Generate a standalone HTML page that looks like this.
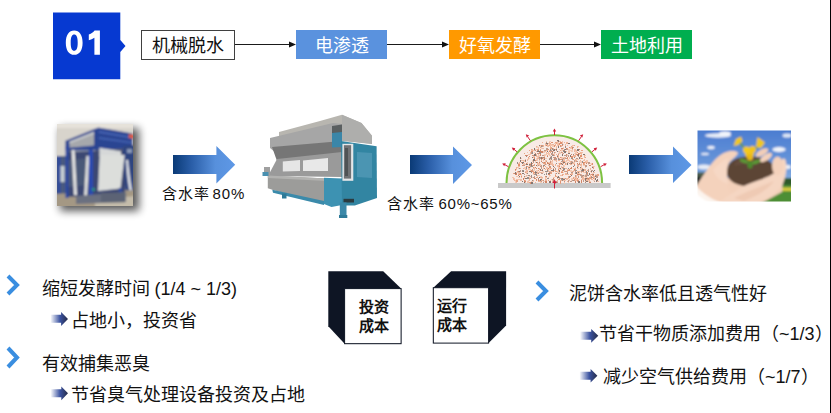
<!DOCTYPE html>
<html lang="zh-CN">
<head>
<meta charset="utf-8">
<style>
html,body{margin:0;padding:0;background:#fff;}
body{width:831px;height:413px;position:relative;overflow:hidden;font-family:"Liberation Sans",sans-serif;color:#111;}
.a{position:absolute;}
.box{position:absolute;top:30px;height:29px;font-size:18px;line-height:26px;padding-top:3px;text-align:center;color:#fff;box-sizing:border-box;}
.t{position:absolute;font-size:18px;line-height:20px;white-space:nowrap;color:#111;}
</style>
</head>
<body>
<!-- right border line -->
<div class="a" style="left:830px;top:0;width:1px;height:413px;background:#000;"></div>

<!-- 01 badge -->
<svg class="a" style="left:0;top:0" width="140" height="90">
  <polygon points="53,12.6 120.3,12.6 120.3,40 125.5,46 120.3,52 120.3,79.3 53,79.3" fill="#0639d1"/>
</svg>
<svg class="a" style="left:0;top:0" width="140" height="90">
  <path fill="#fff" fill-rule="evenodd" d="M74.2,30.5 C69,30.5 65.8,35 65.8,42.65 C65.8,50.3 69,54.8 74.2,54.8 C79.4,54.8 82.6,50.3 82.6,42.65 C82.6,35 79.4,30.5 74.2,30.5 Z M74.2,34.6 C72,34.6 70.7,37 70.7,42.65 C70.7,48.3 72,50.7 74.2,50.7 C76.4,50.7 77.7,48.3 77.7,42.65 C77.7,37 76.4,34.6 74.2,34.6 Z"/>
  <path fill="#fff" d="M88.8,34.4 C91.5,33.5 93.3,32.2 94.6,30.5 L99.9,30.5 L99.9,54.8 L94.4,54.8 L94.4,37.8 C92.6,39 90.8,39.7 88.8,40.2 Z"/>
</svg>

<!-- flow boxes -->
<div class="box" style="left:141px;width:94px;height:30px;border:1px solid #404040;color:#111;line-height:28px;padding-top:1px;background:#fff;">机械脱水</div>
<div class="box" style="left:296px;width:91px;background:#5a92de;">电渗透</div>
<div class="box" style="left:449px;width:91px;background:#ff9900;">好氧发酵</div>
<div class="box" style="left:601px;width:91px;background:#00ae4f;">土地利用</div>

<svg class="a" style="left:0;top:0" width="831" height="90">
  <g stroke="#1a1a1a" stroke-width="1.2">
    <line x1="235" y1="44.5" x2="290" y2="44.5"/>
    <line x1="387" y1="44.5" x2="443" y2="44.5"/>
    <line x1="540" y1="44.5" x2="595" y2="44.5"/>
  </g>
  <g fill="#111">
    <polygon points="289,41.5 296,44.5 289,47.5"/>
    <polygon points="442,41.5 449,44.5 442,47.5"/>
    <polygon points="594,41.5 601,44.5 594,47.5"/>
  </g>
</svg>

<!-- big arrows -->
<svg class="a" style="left:0;top:0" width="831" height="230">
  <defs>
    <linearGradient id="ag" x1="0" y1="0" x2="1" y2="0">
      <stop offset="0" stop-color="#0a3a76"/>
      <stop offset="0.3" stop-color="#2a5ea8"/>
      <stop offset="0.68" stop-color="#5790dc"/>
      <stop offset="1" stop-color="#5e98e6"/>
    </linearGradient>
  </defs>
  <polygon points="173,155 216.4,155 216.4,146 235.2,164.8 216.4,183.6 216.4,174 173,174" fill="url(#ag)"/>
  <polygon points="410,155 453,155 453,146.5 472,165 453,184 453,174 410,174" fill="url(#ag)"/>
  <polygon points="629,155 673,155 673,146.5 691.5,165 673,183 673,174 629,174" fill="url(#ag)"/>
</svg>

<div class="t" style="left:161.5px;top:183.5px;font-size:15px;"><span style="letter-spacing:1px">含水率</span><span style="margin-left:3px;letter-spacing:0.9px">80%</span></div>
<div class="t" style="left:386.5px;top:194px;font-size:15px;"><span style="letter-spacing:1px">含水率</span><span style="margin-left:4px;letter-spacing:0.75px">60%~65%</span></div>

<svg class="a" style="left:0;top:0" width="831" height="413" viewBox="0 0 831 413">
  <defs>
    <filter id="blr" x="-5%" y="-5%" width="110%" height="110%"><feGaussianBlur stdDeviation="0.85"/></filter>
    <filter id="blr2" x="-5%" y="-5%" width="110%" height="110%"><feGaussianBlur stdDeviation="0.5"/></filter>
    <filter id="shd" x="-30%" y="-30%" width="160%" height="160%"><feGaussianBlur stdDeviation="4"/></filter>
    <linearGradient id="sky" x1="0" y1="0" x2="0" y2="1">
      <stop offset="0" stop-color="#4a7bd0"/>
      <stop offset="0.5" stop-color="#6a98da"/>
      <stop offset="1" stop-color="#b4d0ee"/>
    </linearGradient>
    <linearGradient id="fade" x1="0" y1="0" x2="1" y2="1">
      <stop offset="0" stop-color="#fff" stop-opacity="0"/>
      <stop offset="1" stop-color="#fff" stop-opacity="1"/>
    </linearGradient>
    <clipPath id="c1"><rect x="57" y="124" width="76" height="82"/></clipPath>
    <clipPath id="c4"><rect x="697.5" y="130.5" width="93.5" height="71"/></clipPath>
  </defs>

  <!-- ===== photo 1: belt press ===== -->
  <rect x="60" y="128" width="79" height="83" fill="#000" opacity="0.65" filter="url(#shd)"/>
  <g clip-path="url(#c1)">
   <rect x="57" y="124" width="76" height="82" fill="#d8d4cc"/>
   <g filter="url(#blr)">
    <rect x="55" y="122" width="80" height="86" fill="#d8d4cc"/>
    <rect x="55" y="122" width="80" height="6" fill="#e6e2da"/>
    <!-- left background machine -->
    <rect x="55" y="156" width="12" height="42" fill="#4a5a80"/>
    <rect x="57.4" y="156" width="3" height="42" fill="#2a4aa0"/>
    <rect x="60.5" y="166" width="4" height="16" fill="#c8d0d4"/>
    <!-- floor -->
    <polygon points="55,194 135,189 135,208 55,208" fill="#a49884"/>
    <polygon points="95,200 135,196 135,208 95,208" fill="#c4bcaa"/>
    <!-- under-beam structure -->
    <polygon points="66,147 97,134 124,140 124,153 66,153" fill="#5a6278"/>
    <polygon points="66,147 97,133 97,138 66,151.5" fill="#b0b0ac"/>
    <rect x="75" y="150" width="20" height="2.5" fill="#a8acb0"/>
    <!-- lower machine body -->
    <polygon points="66,152 125,150 125,194 66,197" fill="#3a4672"/>
    <polygon points="68,160 88,158 88,185 68,187" fill="#4a5878"/>
    <!-- top frame -->
    <polygon points="65.4,140.8 98.3,127.5 132.5,133.4 132.5,148.3 91.5,150.3 65.4,150.3" fill="#2c4592"/>
    <polygon points="69.5,141.5 94,131.8 94,145.5 69.5,147.8" fill="#a6a8ac"/>
    <polygon points="69.5,141.5 94,131.8 94,134 69.5,143.5" fill="#c8cacc"/>
    <polygon points="99,131 132.5,137 132.5,138.5 99,132.8" fill="#4a68b8"/>
    <polygon points="99,137 132.5,142 132.5,143.5 99,139" fill="#4262b0"/>
    <polygon points="128.8,134 135,135 135,138.5 128.8,138" fill="#e05a3a"/>
    <!-- white upper panel under box -->
    <polygon points="99.4,147.8 121,151.3 121,156 99.4,156" fill="#d6d8d8"/>
    <!-- right blue machine -->
    <polygon points="122.8,146 135,145 135,190.3 125.3,190.3" fill="#2e4480"/>
    <rect x="127" y="149" width="5" height="4" fill="#8a9ab8"/>
    <!-- white belt panel -->
    <polygon points="99.7,155 124.7,155 120.5,188.5 98,190.9" fill="#dcdedb"/>
    <!-- pipes -->
    <polygon points="71.6,150 74.6,150 77,195 74,195" fill="#e6e6e4"/>
    <polygon points="86.4,156 89.4,156 87,197.4 84,197.4" fill="#e2e2e0"/>
    <path d="M126,160 L128,160 Q130,180 132,190 L129.5,190.5 Q127,178 126,160 Z" fill="#e4e6e8"/>
    <!-- blue columns -->
    <rect x="65.5" y="146" width="3" height="52" fill="#2a46a0"/>
    <rect x="88.8" y="150" width="4.2" height="50" fill="#2a4ab0"/>
    <rect x="118.8" y="188" width="3" height="8" fill="#2a46a0"/>
    <rect x="92" y="188" width="3" height="3" fill="#2a8a80"/>
    <!-- base blocks -->
    <polygon points="76,196 126,192 126,202 76,204" fill="#6a7080"/>
    <rect x="101" y="192.7" width="23.7" height="9.5" fill="#5c6474"/>
   </g>
  </g>

  <!-- ===== machine ===== -->
  <g filter="url(#blr2)">
    <!-- hood -->
    <polygon points="279,132 320,121 342,114.8 361.5,123 372,135.8 372,144 354,141.8 342,140.3 320,128 279,139" fill="#b8b6b0"/>
    <polygon points="342,114.8 361.5,123 372,135.8 372,144 342,141" fill="#aeaeac"/>
    <polygon points="270,138 333,123 342,124 342,142 318,145.5 276,153 270,148" fill="#a6a6a6"/>
    <polygon points="272,147 342,141 342,153 318,156 277,161" fill="#767676"/>
    <!-- window frame -->
    <polygon points="277,159 342,152 342,177 268,176" fill="#9a9a9a"/>
    <polygon points="282.8,161.5 300,160 300,171 282.8,171.5" fill="#e6e6e6"/>
    <polygon points="303,160.5 328,158 328,171 303,171" fill="#e8e8e8"/>
    <!-- lower front panel -->
    <polygon points="267.8,175.5 327,178.5 327,201 318,202.5 272.3,189.8 267.8,188.3" fill="#9c9c9a"/>
    <polygon points="267.8,175.5 327,178.5 327,181 267.8,178" fill="#b2b2b0"/>
    <!-- left pipe -->
    <rect x="264" y="167" width="6" height="9" fill="#a0a0a0"/>
    <rect x="262.5" y="172" width="6" height="4" fill="#4a90b0"/>
    <!-- teal rail -->
    <polygon points="272.3,189.8 324,201 324,205 273,192.8" fill="#3a8aaa"/>
    <rect x="282" y="193.5" width="4.5" height="5" fill="#2e7a98"/>
    <!-- teal front piece -->
    <polygon points="324,177.8 342,178.5 342,205 331.5,207 324,204" fill="#3e92b2"/>
    <!-- chain panel -->
    <polygon points="332,126 342,124.5 342,133 332,134" fill="#5a5e60"/>
    <polygon points="332,133 342,132 342,147 332,147.5" fill="#3a86a8"/>
    <!-- teal side panel -->
    <polygon points="341,140.9 376.6,146.3 377,198 354.8,205.5 342,205.5 341,143.3" fill="#3385a2"/>
    <polygon points="357,152 372,153 372,178 357,177" fill="#4b95b2"/>
    <rect x="342.4" y="143.8" width="10.9" height="37" fill="#e4e6e8"/>
    <rect x="343.9" y="145.2" width="7.2" height="33.4" fill="#707274"/>
    <rect x="345" y="148" width="3" height="28" fill="#505254"/>
    <rect x="343.5" y="198.8" width="10.5" height="3.7" fill="#2a3a40"/>
    <!-- foot -->
    <rect x="339.8" y="202.5" width="6.7" height="14" fill="#3a88a8"/>
    <rect x="339" y="215" width="8.3" height="3" fill="#2e7a98"/>
  </g>

  <!-- ===== dome ===== -->
  <rect x="498" y="183" width="112.6" height="5" fill="#c9c9c9"/>
  <path d="M506.5,183 A47.8,47.8 0 0 1 602.1,183 Z" fill="#f8ebe6"/>
  <g filter="url(#blr2)"><path fill="#e8a484" d="M518 174h2v1h-2zM533 172h1v2h-1zM587 181h1v1h-1zM535 178h1v1h-1zM552 154h1v2h-1zM541 157h1v1h-1zM574 169h1v2h-1zM553 168h1v1h-1zM558 170h1v2h-1zM528 157h1v1h-1zM558 145h1v1h-1zM531 163h2v1h-2zM585 178h1v1h-1zM521 162h1v1h-1zM549 162h1v2h-1zM513 173h2v1h-2zM547 155h1v1h-1zM536 154h1v2h-1zM544 154h2v2h-2zM515 170h1v1h-1zM559 163h1v2h-1zM558 168h2v1h-2zM544 162h2v2h-2zM550 151h1v1h-1zM556 182h2v1h-2zM554 149h2v1h-2zM562 167h2v2h-2zM550 148h1v1h-1zM574 168h2v2h-2zM555 160h1v1h-1zM565 163h2v2h-2zM586 172h1v1h-1zM560 150h1v1h-1zM593 167h1v2h-1zM551 147h1v2h-1zM568 159h1v1h-1zM576 173h2v1h-2zM537 149h2v2h-2zM592 166h1v2h-1zM529 158h1v1h-1zM576 158h1v2h-1zM562 174h1v2h-1zM532 152h1v1h-1zM537 156h2v1h-2zM527 166h2v1h-2zM573 145h2v1h-2zM573 155h1v1h-1zM564 171h2v1h-2zM567 159h1v1h-1zM528 168h1v1h-1zM563 161h2v1h-2zM553 154h2v1h-2zM538 156h1v1h-1zM524 153h1v1h-1zM574 178h2v1h-2zM558 154h1v1h-1zM548 180h1v1h-1zM540 149h1v1h-1zM554 155h1v1h-1zM581 165h1v1h-1zM526 171h2v1h-2zM570 163h1v1h-1zM583 164h2v2h-2zM529 178h2v1h-2zM544 152h1v1h-1zM522 170h1v1h-1zM550 151h1v2h-1zM578 155h1v1h-1zM577 181h1v1h-1zM531 149h1v1h-1zM582 176h1v2h-1zM587 170h1v1h-1zM536 177h2v1h-2zM545 166h1v1h-1zM568 176h2v2h-2zM533 171h1v1h-1zM555 142h2v2h-2zM534 164h1v2h-1zM557 155h1v1h-1zM589 177h1v2h-1zM585 178h2v1h-2zM562 152h1v2h-1zM550 146h1v2h-1zM543 162h2v2h-2zM538 170h1v1h-1zM529 182h2v1h-2zM555 176h2v1h-2zM593 172h1v1h-1zM529 166h2v1h-2zM516 180h2v2h-2zM553 181h1v1h-1zM550 172h2v2h-2zM539 180h1v1h-1zM592 175h2v1h-2zM573 177h2v2h-2zM590 177h2v2h-2zM582 158h1v1h-1zM532 165h2v1h-2zM550 147h2v1h-2zM525 171h2v2h-2zM540 152h1v1h-1zM582 168h1v2h-1zM529 150h1v1h-1zM566 148h2v2h-2zM588 179h1v1h-1zM549 145h1v1h-1zM526 169h1v1h-1zM572 159h2v1h-2zM597 174h2v2h-2zM581 150h2v1h-2zM560 178h1v1h-1zM571 146h1v1h-1zM540 170h1v1h-1zM542 170h1v2h-1zM575 178h2v2h-2zM567 170h1v2h-1zM562 162h2v2h-2zM585 157h1v1h-1zM560 182h1v2h-1zM549 143h2v1h-2zM524 160h1v1h-1zM555 171h2v1h-2zM558 173h2v1h-2zM540 147h2v1h-2zM518 166h1v2h-1z"/><path fill="#e0906e" d="M545 176h1v1h-1zM539 152h1v2h-1zM563 160h1v2h-1zM587 173h1v1h-1zM591 176h1v1h-1zM528 166h1v2h-1zM571 178h2v2h-2zM519 173h2v2h-2zM534 157h1v2h-1zM554 145h1v2h-1zM518 171h1v2h-1zM580 157h1v1h-1zM523 168h2v1h-2zM567 158h1v2h-1zM531 163h2v1h-2zM542 146h1v1h-1zM577 152h1v1h-1zM580 155h2v2h-2zM521 176h1v1h-1zM584 176h1v1h-1zM581 175h1v1h-1zM535 178h1v1h-1zM568 169h1v2h-1zM543 145h1v1h-1zM560 181h1v2h-1zM560 142h2v2h-2zM560 159h2v1h-2zM575 155h1v2h-1zM570 181h1v1h-1zM581 158h1v1h-1zM569 163h1v1h-1zM571 156h2v2h-2zM583 162h2v2h-2zM542 145h1v1h-1zM560 145h1v1h-1zM574 179h1v2h-1zM524 180h2v2h-2zM530 182h2v2h-2zM546 149h1v1h-1zM531 170h2v2h-2zM587 173h1v2h-1zM530 167h1v1h-1zM540 180h2v1h-2zM531 151h2v2h-2zM549 142h1v2h-1zM537 150h2v2h-2zM586 172h2v1h-2zM553 145h2v2h-2zM540 145h2v1h-2zM554 152h1v1h-1zM558 172h1v1h-1zM581 153h1v1h-1zM567 159h1v2h-1zM543 157h1v1h-1zM531 170h1v1h-1zM591 174h2v1h-2zM550 162h1v2h-1zM585 174h2v2h-2zM569 169h1v2h-1zM561 171h2v2h-2zM583 171h1v1h-1zM518 164h2v2h-2zM523 161h1v1h-1zM533 167h1v2h-1zM560 163h2v1h-2zM532 155h1v1h-1zM578 153h2v1h-2zM553 171h1v1h-1zM564 162h1v1h-1zM552 180h2v1h-2zM562 160h2v2h-2zM562 145h1v1h-1zM558 168h1v2h-1zM574 160h2v1h-2zM558 179h2v1h-2zM575 171h1v2h-1zM551 142h2v1h-2zM577 175h2v1h-2zM593 178h1v1h-1zM536 180h1v1h-1zM559 149h1v1h-1zM574 164h1v1h-1zM536 162h2v1h-2zM567 157h1v1h-1zM555 175h1v1h-1zM534 172h1v2h-1zM577 178h1v1h-1zM541 159h1v1h-1zM576 154h1v1h-1zM578 156h1v1h-1zM577 179h2v2h-2zM547 169h1v1h-1zM519 172h1v2h-1zM559 143h1v2h-1zM575 182h1v1h-1zM587 161h1v1h-1zM569 147h1v1h-1zM591 163h2v2h-2zM548 149h1v1h-1zM549 167h2v2h-2zM535 160h1v1h-1zM570 163h1v1h-1zM586 171h1v1h-1zM526 171h1v1h-1zM568 169h1v2h-1zM546 167h2v2h-2zM522 165h2v1h-2zM549 151h1v1h-1zM582 178h1v1h-1zM579 174h1v1h-1zM560 157h1v1h-1zM545 182h2v1h-2zM527 155h1v1h-1zM532 157h1v1h-1zM554 158h1v1h-1zM542 155h1v1h-1zM578 159h1v1h-1z"/><path fill="#9a8e88" d="M583 165h2v1h-2zM573 180h1v1h-1zM538 173h1v1h-1zM527 172h1v2h-1zM572 161h1v2h-1zM581 163h1v2h-1zM531 171h1v2h-1zM556 163h1v1h-1zM545 179h1v2h-1zM557 182h1v1h-1zM535 171h2v1h-2zM545 154h1v1h-1zM575 152h1v1h-1zM574 165h1v1h-1zM519 168h1v1h-1zM540 152h1v2h-1zM546 173h1v2h-1zM515 173h1v1h-1zM549 158h1v2h-1zM563 170h1v1h-1zM534 173h2v2h-2zM558 173h1v1h-1zM591 177h1v1h-1zM552 152h1v1h-1zM539 155h2v1h-2zM542 169h1v1h-1zM566 155h1v1h-1zM522 171h1v1h-1zM544 168h1v1h-1zM562 179h1v2h-1zM541 146h1v1h-1zM575 182h1v1h-1zM531 175h1v1h-1zM587 175h2v1h-2zM543 165h2v1h-2zM562 159h1v2h-1zM586 171h1v2h-1zM592 177h1v1h-1zM537 153h2v1h-2zM561 178h1v2h-1zM531 177h1v1h-1zM550 149h1v2h-1zM530 153h1v2h-1zM546 141h1v2h-1zM571 158h2v1h-2zM581 170h1v1h-1zM531 166h2v1h-2zM536 174h1v2h-1zM547 146h1v1h-1zM534 174h1v1h-1zM544 174h1v1h-1zM569 176h1v2h-1zM563 168h2v2h-2zM526 167h1v2h-1zM568 168h1v1h-1zM563 180h1v1h-1zM580 175h2v1h-2zM552 155h2v1h-2zM569 153h1v1h-1zM573 156h1v1h-1zM547 170h1v2h-1zM550 156h2v2h-2zM564 149h1v1h-1zM527 177h2v2h-2zM575 170h2v1h-2zM562 143h1v2h-1zM575 172h1v2h-1zM549 154h1v2h-1zM570 174h2v1h-2zM552 148h2v2h-2zM567 159h2v1h-2zM532 180h1v2h-1zM532 152h1v2h-1zM519 173h1v1h-1zM577 158h1v2h-1zM552 144h1v1h-1zM567 173h1v1h-1zM536 159h1v1h-1zM558 158h2v2h-2zM555 173h2v1h-2zM538 157h2v1h-2zM586 175h1v1h-1zM530 176h2v1h-2zM574 157h1v1h-1zM517 162h1v2h-1zM545 171h2v1h-2zM547 178h2v1h-2zM554 159h1v1h-1zM538 150h1v2h-1zM563 150h1v2h-1zM543 157h1v2h-1zM547 144h1v1h-1zM565 146h1v2h-1zM585 181h1v2h-1zM522 170h2v1h-2zM551 163h1v1h-1zM525 171h1v1h-1zM582 161h1v2h-1zM528 175h2v1h-2zM546 176h1v1h-1zM567 174h1v1h-1zM588 171h1v1h-1zM538 178h1v1h-1zM566 173h1v2h-1zM582 175h2v2h-2zM580 153h1v1h-1zM586 173h1v2h-1zM575 181h1v1h-1zM544 150h1v2h-1zM575 179h1v1h-1zM531 150h1v1h-1zM550 158h2v2h-2zM571 171h1v1h-1zM571 163h1v1h-1zM526 156h1v1h-1zM573 154h1v1h-1zM524 176h1v1h-1zM529 176h1v1h-1zM542 177h1v1h-1z"/><path fill="#d08668" d="M526 163h2v1h-2zM547 156h1v1h-1zM548 174h1v1h-1zM567 155h1v1h-1zM581 180h1v2h-1zM547 162h2v2h-2zM538 179h1v1h-1zM566 154h1v1h-1zM543 166h1v1h-1zM550 171h2v1h-2zM543 158h2v1h-2zM562 170h1v2h-1zM566 155h1v1h-1zM578 153h1v2h-1zM520 179h2v1h-2zM579 173h1v1h-1zM577 163h1v1h-1zM561 148h2v1h-2zM566 148h1v2h-1zM536 179h1v1h-1zM572 163h1v1h-1zM531 152h1v1h-1zM569 163h1v1h-1zM538 180h1v1h-1zM575 172h2v1h-2zM537 165h1v2h-1zM574 168h1v2h-1zM572 149h1v1h-1zM564 151h1v2h-1zM529 156h1v1h-1zM536 171h2v1h-2zM546 145h2v1h-2zM539 162h1v1h-1zM568 149h2v1h-2zM525 155h2v1h-2zM577 154h1v2h-1zM536 168h1v1h-1zM571 167h1v1h-1zM592 174h2v1h-2zM540 154h1v1h-1zM540 170h2v1h-2zM517 172h1v1h-1zM551 153h2v2h-2zM538 168h2v1h-2zM555 157h1v1h-1zM579 149h1v1h-1zM534 158h1v1h-1zM530 164h1v1h-1zM514 173h2v1h-2zM535 153h1v1h-1zM572 147h1v2h-1zM579 162h1v2h-1zM570 176h1v1h-1zM518 171h1v1h-1zM577 174h2v1h-2zM586 162h1v2h-1zM575 175h1v1h-1zM548 173h2v2h-2zM515 169h1v1h-1zM524 181h2v1h-2zM550 163h1v1h-1zM553 178h1v1h-1zM539 155h2v1h-2zM552 180h2v1h-2zM541 161h1v1h-1zM523 178h1v2h-1zM570 174h2v1h-2zM555 157h1v2h-1zM542 152h1v1h-1zM552 180h1v1h-1zM529 171h1v1h-1zM558 146h1v1h-1zM532 150h1v1h-1zM545 181h2v2h-2zM577 163h1v2h-1zM544 156h1v2h-1zM548 168h1v1h-1zM559 166h1v1h-1zM521 162h1v1h-1zM525 161h1v1h-1zM546 153h1v1h-1zM532 181h2v1h-2zM587 178h2v2h-2zM515 173h2v2h-2zM560 168h1v2h-1zM544 162h1v1h-1zM531 182h1v1h-1zM541 151h2v2h-2zM542 157h1v2h-1zM526 166h1v1h-1zM583 154h1v1h-1zM531 171h1v1h-1zM534 178h1v1h-1zM575 181h1v2h-1zM535 167h1v1h-1zM564 150h1v1h-1zM571 154h1v1h-1zM564 178h1v1h-1zM589 165h2v1h-2zM518 175h1v1h-1zM540 150h1v2h-1zM589 182h2v1h-2zM552 151h1v1h-1zM586 162h1v1h-1zM581 182h1v1h-1zM558 168h1v1h-1zM570 168h2v1h-2z"/><path fill="#857670" d="M547 150h1v2h-1zM554 149h1v2h-1zM520 157h1v2h-1zM562 154h1v2h-1zM565 149h1v1h-1zM577 167h1v1h-1zM553 151h1v1h-1zM584 172h1v1h-1zM529 167h1v2h-1zM568 152h1v2h-1zM579 157h1v2h-1zM536 171h2v2h-2zM558 176h1v1h-1zM558 157h1v1h-1zM566 163h2v2h-2zM595 176h1v1h-1zM553 150h2v1h-2zM540 169h1v1h-1zM529 166h1v1h-1zM582 169h2v2h-2zM526 164h1v1h-1zM531 164h1v2h-1zM532 157h1v1h-1zM557 140h2v2h-2zM578 172h1v1h-1zM597 179h1v2h-1zM568 153h2v1h-2zM594 170h1v1h-1zM542 146h1v1h-1zM524 178h1v1h-1zM568 150h2v1h-2zM531 182h2v2h-2zM538 151h2v1h-2zM540 179h2v2h-2zM515 172h1v2h-1zM596 180h1v2h-1zM571 175h1v1h-1zM534 148h1v2h-1zM548 173h2v1h-2zM595 178h1v1h-1zM542 155h1v1h-1zM523 162h1v1h-1zM559 153h1v1h-1zM533 159h2v2h-2zM524 182h1v1h-1zM556 148h1v2h-1zM585 178h2v2h-2zM544 159h1v1h-1zM554 143h1v1h-1zM568 143h2v1h-2zM523 171h1v1h-1zM539 177h1v1h-1zM553 169h1v2h-1zM576 172h2v2h-2zM557 151h1v1h-1zM553 181h1v2h-1zM535 172h1v1h-1zM585 180h1v1h-1zM564 151h2v2h-2zM529 171h2v1h-2zM570 155h1v2h-1zM549 181h2v2h-2zM591 171h1v1h-1zM520 160h1v2h-1zM580 167h1v2h-1zM577 149h2v2h-2zM558 146h1v2h-1zM592 167h1v1h-1zM525 171h1v1h-1zM586 181h2v1h-2zM522 163h1v1h-1zM581 162h1v1h-1zM563 162h2v1h-2zM536 165h2v1h-2zM537 151h1v1h-1zM522 162h1v2h-1zM557 156h1v2h-1zM578 164h2v1h-2zM563 179h2v1h-2zM553 166h1v1h-1zM549 141h1v1h-1zM547 143h1v1h-1zM549 164h1v2h-1zM519 171h1v1h-1zM551 170h2v1h-2zM578 181h1v2h-1zM562 155h1v1h-1zM559 152h1v2h-1zM577 173h1v1h-1zM578 154h1v2h-1zM519 176h1v1h-1zM590 171h1v1h-1zM529 164h1v1h-1zM593 171h1v1h-1zM573 147h1v1h-1zM589 173h1v2h-1zM552 162h1v1h-1zM583 154h2v1h-2zM563 179h1v1h-1zM531 162h1v2h-1zM535 162h2v1h-2zM522 181h1v1h-1zM542 170h1v1h-1zM534 154h2v2h-2zM557 177h2v1h-2zM543 152h1v1h-1zM522 173h2v1h-2zM525 178h2v1h-2zM541 157h1v2h-1zM560 168h1v1h-1zM545 154h1v1h-1zM546 143h2v2h-2zM593 174h1v1h-1zM562 178h2v1h-2zM578 181h2v2h-2zM577 179h1v1h-1zM580 158h1v1h-1zM530 153h1v1h-1zM559 170h1v2h-1zM526 164h2v1h-2zM539 145h2v1h-2zM584 172h1v1h-1zM571 162h1v2h-1zM573 166h1v1h-1zM549 168h1v1h-1zM595 179h1v1h-1zM561 163h2v2h-2zM542 170h1v1h-1zM525 160h1v1h-1z"/><path fill="#f4c4ac" d="M579 151h1v1h-1zM566 160h1v1h-1zM590 171h1v1h-1zM569 160h1v1h-1zM570 148h2v1h-2zM530 169h1v2h-1zM548 162h2v1h-2zM543 167h1v2h-1zM577 175h2v1h-2zM586 160h2v2h-2zM548 177h1v1h-1zM537 159h1v2h-1zM547 153h1v1h-1zM525 171h2v1h-2zM521 174h1v2h-1zM593 177h2v1h-2zM562 141h1v1h-1zM516 172h2v1h-2zM546 167h2v2h-2zM592 170h1v1h-1zM573 156h1v1h-1zM516 176h2v1h-2zM521 160h1v1h-1zM541 170h1v1h-1zM583 177h1v1h-1zM561 149h2v2h-2zM539 171h1v1h-1zM528 182h1v1h-1zM594 178h1v2h-1zM534 173h1v1h-1zM537 175h2v1h-2zM559 153h1v1h-1zM525 182h1v1h-1zM549 168h2v1h-2zM578 168h1v1h-1zM562 162h1v2h-1zM553 177h2v1h-2zM560 169h1v1h-1zM567 160h1v1h-1zM565 180h1v1h-1zM543 158h1v1h-1zM559 151h1v2h-1zM580 169h2v1h-2zM545 164h2v1h-2zM583 176h2v1h-2zM565 145h1v1h-1zM578 159h1v1h-1zM534 168h1v1h-1zM576 177h1v2h-1zM568 169h1v1h-1zM548 153h2v2h-2zM533 150h1v1h-1zM557 145h1v1h-1zM583 160h1v1h-1zM568 155h1v2h-1zM577 168h2v1h-2zM580 161h2v2h-2zM516 169h1v1h-1zM564 170h1v1h-1zM562 157h1v1h-1zM559 172h1v1h-1zM567 159h1v1h-1zM531 181h1v1h-1zM573 162h2v2h-2zM553 159h1v1h-1zM568 151h2v2h-2zM585 166h1v2h-1zM557 176h1v1h-1zM581 166h1v2h-1zM545 160h1v2h-1zM579 154h1v1h-1zM564 182h1v2h-1zM558 167h1v2h-1zM565 161h2v1h-2zM561 169h1v1h-1zM549 155h2v1h-2zM541 176h1v1h-1zM549 175h2v1h-2zM577 146h2v1h-2zM545 177h1v2h-1zM586 161h1v1h-1zM546 153h1v2h-1zM558 167h2v1h-2zM527 181h2v2h-2zM512 177h2v1h-2zM571 150h2v2h-2zM550 144h2v2h-2zM585 155h1v1h-1zM559 149h1v1h-1zM527 175h1v1h-1zM551 171h2v1h-2zM568 181h1v2h-1zM590 176h1v1h-1zM568 159h1v2h-1zM515 180h1v1h-1zM528 168h2v2h-2zM516 179h2v1h-2zM529 154h1v1h-1zM518 179h2v1h-2zM546 172h1v1h-1zM587 175h1v1h-1zM551 161h2v1h-2zM514 178h1v2h-1zM569 161h1v1h-1zM581 175h1v1h-1zM527 152h1v1h-1zM550 159h1v1h-1zM550 180h1v1h-1zM552 164h2v2h-2zM572 145h1v2h-1zM569 157h1v2h-1zM527 162h1v2h-1z"/><path fill="#c09a8a" d="M578 156h1v1h-1zM576 179h1v2h-1zM556 150h1v1h-1zM571 178h1v1h-1zM552 179h2v2h-2zM547 144h1v2h-1zM551 179h1v1h-1zM539 159h1v2h-1zM569 163h2v1h-2zM565 171h2v1h-2zM578 164h2v1h-2zM532 169h1v1h-1zM551 150h1v2h-1zM551 153h2v2h-2zM542 155h2v1h-2zM581 171h2v1h-2zM546 148h2v2h-2zM594 180h1v2h-1zM549 172h2v1h-2zM567 172h1v1h-1zM541 167h1v2h-1zM537 165h2v1h-2zM560 146h2v1h-2zM554 167h1v1h-1zM580 174h1v2h-1zM533 161h1v2h-1zM585 175h2v2h-2zM534 150h2v1h-2zM542 162h1v1h-1zM581 175h2v2h-2zM553 157h2v1h-2zM573 147h1v1h-1zM579 162h2v1h-2zM529 165h2v2h-2zM576 158h2v1h-2zM588 170h1v1h-1zM563 158h1v1h-1zM524 174h1v1h-1zM568 155h1v2h-1zM549 166h2v1h-2zM583 180h1v2h-1zM523 164h2v2h-2zM541 173h2v1h-2zM541 170h1v1h-1zM533 165h1v1h-1zM561 161h2v1h-2zM571 161h1v2h-1zM571 171h2v2h-2zM565 178h1v1h-1zM568 180h1v2h-1zM518 172h2v2h-2zM539 158h1v1h-1zM556 181h1v1h-1zM572 180h1v1h-1zM563 153h1v1h-1zM540 157h1v2h-1zM537 153h2v1h-2zM590 169h1v1h-1zM534 174h1v1h-1zM553 148h1v2h-1zM534 176h1v2h-1zM565 158h2v1h-2zM588 169h1v1h-1zM566 155h1v2h-1zM575 172h1v1h-1zM595 175h2v1h-2zM569 150h1v1h-1zM566 149h2v1h-2zM586 166h1v1h-1zM543 182h1v1h-1zM550 161h1v1h-1zM555 182h1v2h-1zM564 155h2v1h-2zM591 170h2v1h-2zM578 176h1v2h-1zM575 171h1v1h-1zM581 176h1v2h-1zM546 161h1v1h-1zM520 170h1v2h-1zM533 155h1v1h-1zM567 179h1v1h-1zM543 180h1v2h-1zM554 152h1v2h-1zM534 168h1v2h-1zM587 179h2v2h-2zM581 153h1v2h-1zM532 170h1v1h-1zM585 165h2v2h-2zM534 177h1v1h-1zM558 154h1v1h-1zM561 151h1v2h-1zM533 177h1v1h-1zM564 181h1v1h-1zM574 161h1v1h-1zM541 181h1v2h-1zM549 158h1v1h-1zM542 145h1v2h-1zM542 169h1v1h-1zM575 175h1v2h-1zM588 162h2v2h-2zM559 177h1v2h-1zM531 152h1v2h-1zM562 167h1v1h-1zM586 174h2v2h-2zM546 142h1v1h-1zM544 150h2v2h-2zM576 161h2v1h-2zM574 160h1v1h-1zM540 165h2v2h-2zM552 164h1v1h-1zM596 176h2v2h-2zM547 148h1v2h-1zM555 168h1v2h-1zM570 181h2v1h-2zM556 181h2v2h-2zM555 158h2v2h-2zM544 164h2v1h-2z"/><path fill="#eeb498" d="M550 163h1v2h-1zM552 165h1v1h-1zM585 161h1v2h-1zM561 145h1v2h-1zM562 153h1v1h-1zM584 169h2v2h-2zM552 144h2v1h-2zM570 164h1v1h-1zM574 155h2v2h-2zM591 179h2v1h-2zM584 163h1v1h-1zM577 171h2v1h-2zM554 179h1v1h-1zM591 164h1v1h-1zM525 169h1v1h-1zM577 165h2v2h-2zM557 143h1v1h-1zM564 142h1v1h-1zM571 151h1v1h-1zM582 177h2v2h-2zM553 146h1v1h-1zM520 179h1v1h-1zM566 151h1v1h-1zM593 176h2v2h-2zM534 150h1v1h-1zM535 182h1v1h-1zM590 168h1v1h-1zM563 148h1v1h-1zM536 151h1v1h-1zM577 164h1v1h-1zM549 171h2v1h-2zM589 179h1v1h-1zM586 179h2v2h-2zM572 149h1v1h-1zM567 181h1v1h-1zM542 142h1v1h-1zM552 144h2v1h-2zM564 165h1v1h-1zM541 180h2v1h-2zM540 177h2v1h-2zM517 171h1v1h-1zM574 149h1v2h-1zM564 157h1v2h-1zM557 180h1v2h-1zM548 165h2v1h-2zM525 180h1v1h-1zM584 155h1v2h-1zM575 160h2v1h-2zM552 160h1v1h-1zM516 167h1v2h-1zM585 172h1v1h-1zM519 162h1v2h-1zM558 155h1v2h-1zM586 162h2v1h-2zM518 174h1v1h-1zM528 158h1v1h-1zM523 163h1v1h-1zM561 157h2v1h-2zM556 154h1v1h-1zM565 173h2v2h-2zM559 141h2v1h-2zM530 152h1v2h-1zM536 173h2v1h-2zM536 146h1v1h-1zM541 177h2v1h-2zM539 168h1v2h-1zM553 148h1v1h-1zM580 164h2v2h-2zM580 152h2v2h-2zM559 165h1v1h-1zM565 157h1v1h-1zM577 146h1v2h-1zM572 171h2v1h-2zM561 171h2v1h-2zM560 180h2v1h-2zM575 159h1v1h-1zM548 152h1v1h-1zM563 178h2v1h-2zM526 173h1v1h-1zM579 171h2v1h-2zM529 176h2v1h-2zM526 175h1v1h-1zM537 172h1v2h-1zM588 180h2v2h-2zM549 142h1v2h-1zM538 163h2v1h-2zM581 174h1v1h-1zM572 163h2v1h-2zM568 178h1v1h-1zM565 168h2v1h-2zM533 180h1v1h-1zM570 161h1v2h-1zM570 164h2v1h-2zM555 164h1v2h-1zM561 167h1v1h-1zM546 152h1v1h-1zM555 152h1v1h-1zM581 163h1v2h-1zM561 164h1v1h-1zM545 169h1v1h-1zM577 179h2v1h-2zM554 170h2v1h-2zM574 150h2v2h-2zM580 160h1v1h-1zM538 181h2v1h-2zM572 161h1v1h-1zM555 144h1v2h-1zM543 145h1v2h-1zM550 146h1v2h-1zM551 168h1v1h-1zM526 169h1v1h-1zM556 161h1v1h-1zM557 178h1v1h-1zM532 149h1v2h-1zM548 143h1v1h-1zM514 180h1v1h-1zM546 150h2v1h-2zM563 174h1v1h-1zM537 157h2v2h-2zM558 160h2v1h-2zM540 172h2v1h-2zM545 179h2v2h-2zM566 142h2v2h-2zM520 168h1v1h-1zM540 181h1v1h-1zM529 179h1v2h-1zM577 172h1v2h-1zM523 168h1v1h-1zM571 173h2v2h-2zM581 172h1v1h-1z"/><path fill="#f3ccb8" d="M518 167h1v2h-1zM551 162h1v1h-1zM533 170h2v1h-2zM590 181h1v1h-1zM571 178h2v2h-2zM536 170h2v2h-2zM554 160h2v1h-2zM545 158h2v1h-2zM590 163h2v1h-2zM553 181h1v2h-1zM535 149h2v1h-2zM551 149h1v1h-1zM548 164h1v1h-1zM548 170h1v1h-1zM526 172h2v1h-2zM552 180h1v1h-1zM590 163h2v1h-2zM571 151h2v1h-2zM579 161h2v2h-2zM564 165h1v2h-1zM548 169h1v2h-1zM565 161h1v2h-1zM518 177h2v1h-2zM548 162h1v1h-1zM532 160h1v2h-1zM533 174h1v1h-1zM554 143h2v1h-2zM539 160h1v2h-1zM537 157h1v1h-1zM550 155h1v2h-1zM574 177h1v2h-1zM547 145h2v1h-2zM558 163h1v1h-1zM538 172h1v1h-1zM586 177h2v1h-2zM578 179h2v1h-2zM546 141h1v1h-1zM537 176h1v1h-1zM549 168h2v2h-2zM566 163h1v2h-1zM568 149h2v2h-2zM561 150h1v2h-1zM549 141h2v1h-2zM535 161h1v2h-1zM563 172h1v1h-1zM536 147h2v1h-2zM532 181h2v1h-2zM550 160h1v1h-1zM580 157h1v1h-1zM570 170h2v2h-2zM563 166h2v1h-2zM585 174h1v1h-1zM534 152h1v1h-1zM551 162h2v1h-2zM584 175h1v2h-1zM573 170h1v1h-1zM521 158h1v1h-1zM567 154h1v2h-1zM540 176h1v1h-1zM537 165h1v2h-1zM583 165h2v1h-2zM530 154h1v1h-1zM541 147h1v2h-1zM529 163h2v1h-2zM552 145h2v2h-2zM528 154h1v1h-1zM540 182h2v1h-2zM585 171h1v1h-1zM579 172h1v2h-1zM583 172h2v1h-2zM562 157h2v1h-2zM538 175h2v1h-2zM523 160h2v2h-2zM520 179h1v1h-1zM553 151h1v1h-1zM551 179h1v1h-1zM558 142h1v1h-1zM543 181h2v1h-2zM594 172h1v1h-1zM561 158h1v1h-1zM528 159h1v1h-1zM580 168h2v1h-2zM571 179h1v2h-1zM537 146h1v2h-1zM549 176h1v1h-1zM570 150h1v1h-1zM563 147h1v1h-1zM524 167h1v1h-1zM557 171h2v2h-2zM542 171h2v2h-2zM573 168h2v1h-2zM541 147h1v2h-1zM529 176h1v2h-1zM585 177h1v1h-1zM575 152h2v2h-2zM576 159h2v1h-2zM529 158h1v1h-1zM575 167h1v1h-1zM534 167h1v2h-1zM588 164h1v1h-1zM524 167h2v2h-2zM574 153h2v1h-2zM595 174h2v1h-2zM560 152h1v2h-1zM528 166h2v1h-2zM515 181h1v2h-1zM594 166h1v1h-1zM538 155h2v2h-2zM536 158h1v2h-1zM536 160h2v1h-2zM594 179h1v1h-1zM544 154h2v2h-2zM563 144h1v1h-1zM530 167h1v1h-1zM571 150h2v1h-2zM581 162h1v2h-1zM541 178h2v1h-2zM575 151h1v2h-1zM528 180h1v1h-1zM543 151h2v2h-2zM525 176h2v1h-2zM561 169h1v1h-1zM584 172h1v1h-1zM588 180h1v2h-1zM558 151h1v1h-1zM560 162h1v1h-1zM554 154h1v1h-1zM532 177h1v1h-1zM584 179h1v1h-1zM593 180h2v1h-2zM539 146h2v1h-2zM580 171h1v1h-1zM529 163h1v1h-1zM592 173h2v1h-2z"/><path fill="#f0bca4" d="M565 144h1v1h-1zM522 160h2v1h-2zM575 161h1v1h-1zM561 166h1v2h-1zM533 157h1v1h-1zM554 153h1v1h-1zM566 178h2v2h-2zM533 168h1v1h-1zM585 181h1v1h-1zM567 162h2v1h-2zM567 169h1v1h-1zM567 174h2v1h-2zM521 177h1v1h-1zM534 168h1v2h-1zM538 147h1v2h-1zM590 174h1v2h-1zM575 153h1v2h-1zM592 166h2v1h-2zM563 159h2v2h-2zM562 162h1v1h-1zM526 173h1v1h-1zM593 172h2v1h-2zM524 177h1v1h-1zM584 157h1v1h-1zM558 153h1v1h-1zM546 167h1v1h-1zM538 154h1v1h-1zM523 163h2v2h-2zM563 180h2v1h-2zM531 150h1v1h-1zM545 144h1v2h-1zM525 171h2v1h-2zM547 145h2v2h-2zM546 160h1v1h-1zM536 156h2v1h-2zM578 173h1v1h-1zM549 144h2v1h-2zM546 167h1v1h-1zM518 163h1v1h-1zM576 150h1v2h-1zM580 157h1v2h-1zM570 147h2v1h-2zM568 174h1v1h-1zM557 141h1v2h-1zM540 145h1v1h-1zM555 160h2v1h-2zM527 159h1v2h-1zM591 172h1v1h-1zM557 157h2v1h-2zM525 164h1v1h-1zM551 163h2v2h-2zM549 150h1v1h-1zM559 158h1v1h-1zM563 165h1v1h-1zM546 177h1v1h-1zM576 175h1v2h-1zM557 143h2v2h-2zM542 148h2v1h-2zM537 163h2v2h-2zM583 178h2v2h-2zM526 170h2v1h-2zM580 165h2v1h-2zM545 143h1v1h-1zM533 156h2v1h-2zM557 165h2v2h-2zM562 142h1v2h-1zM525 159h1v1h-1zM572 145h2v1h-2zM517 167h1v1h-1zM526 171h1v2h-1zM562 168h1v1h-1zM513 178h1v2h-1zM555 173h1v2h-1zM520 179h2v2h-2zM518 166h2v1h-2zM538 156h1v1h-1zM567 145h1v1h-1zM544 164h1v1h-1zM541 160h1v1h-1zM536 154h1v1h-1zM538 172h2v1h-2zM590 169h1v1h-1zM536 160h1v1h-1zM597 181h2v1h-2zM581 152h2v1h-2zM544 151h2v1h-2zM575 179h2v2h-2zM581 179h2v1h-2zM548 170h1v2h-1zM550 168h1v2h-1zM562 162h1v2h-1zM539 164h2v2h-2zM552 180h1v2h-1zM546 144h1v1h-1zM544 155h1v2h-1zM556 147h1v2h-1zM584 159h1v2h-1zM530 163h1v1h-1zM574 149h2v2h-2zM569 179h1v2h-1zM524 177h1v2h-1zM581 154h1v1h-1zM560 164h1v1h-1zM543 159h1v2h-1zM516 182h1v1h-1zM518 172h2v2h-2zM560 175h2v1h-2zM556 146h1v1h-1zM575 177h2v1h-2zM562 158h1v1h-1z"/></g>
  <path d="M506.5,183 A47.8,47.8 0 0 1 602.1,183" fill="none" stroke="#7dc242" stroke-width="2"/>
  <g stroke="#d0203a" stroke-width="1" fill="#d0203a">
    <line x1="554.5" y1="135" x2="554.5" y2="130.5"/>
    <polygon points="552.8,131.5 554.5,128.5 556.2,131.5" stroke="none"/>
    <line x1="530.4" y1="140.7" x2="527.5" y2="136.5"/>
    <polygon points="525.8,134.2 529.2,135.6 526.6,137.6" stroke="none"/>
    <line x1="517" y1="151.8" x2="514" y2="149.3"/>
    <polygon points="511.8,147.6 515.4,148.2 513.2,150.8" stroke="none"/>
    <line x1="508.4" y1="166.7" x2="504.5" y2="164.5"/>
    <polygon points="502.2,163.4 505.8,163.2 504.2,166.2" stroke="none"/>
    <line x1="578.6" y1="140.7" x2="581.5" y2="136.5"/>
    <polygon points="583.2,134.2 579.8,135.6 582.4,137.6" stroke="none"/>
    <line x1="592" y1="151.8" x2="595" y2="149.3"/>
    <polygon points="597.2,147.6 593.6,148.2 595.8,150.8" stroke="none"/>
    <line x1="600.6" y1="166.7" x2="604.5" y2="164.5"/>
    <polygon points="606.8,163.4 603.2,163.2 604.8,166.2" stroke="none"/>
    <line x1="554.5" y1="188.5" x2="554.5" y2="182"/>
    <polygon points="552.2,183 554.5,179.5 556.8,183" stroke="none"/>
  </g>

  <!-- ===== soil photo ===== -->
  <g clip-path="url(#c4)">
   <g filter="url(#blr)">
    <rect x="695" y="128" width="98" height="76" fill="url(#sky)"/>
    <!-- clouds -->
    <ellipse cx="718" cy="135.5" rx="13" ry="2.2" fill="#e8eef8"/>
    <ellipse cx="725" cy="133.5" rx="6" ry="2.3" fill="#f2f5fb"/>
    <ellipse cx="711" cy="147.5" rx="3.8" ry="1.8" fill="#e8eef8"/>
    <ellipse cx="705" cy="154" rx="4" ry="1.2" fill="#dfe7f5"/>
    <ellipse cx="704" cy="167" rx="7" ry="2.4" fill="#e6ecf6"/>
    <ellipse cx="779" cy="149.5" rx="6.5" ry="2.6" fill="#f2f4fa"/>
    <ellipse cx="787" cy="135.5" rx="4.5" ry="2" fill="#dfe8f6"/>
    <ellipse cx="786" cy="167" rx="5" ry="2.2" fill="#e8eef8"/>
    <!-- horizon -->
    <rect x="695" y="172.5" width="20" height="13" fill="#4a5a48"/>
    <rect x="695" y="177" width="18" height="6" fill="#1e2628"/>
    <rect x="774" y="178" width="19" height="26" fill="#4a8a34"/>
    <rect x="774" y="178" width="19" height="7" fill="#2f5a2a"/>
    <rect x="776" y="187.5" width="17" height="5" fill="#d8cc40"/>
    <rect x="752" y="191" width="41" height="13" fill="#4e8e36"/>
    <!-- skin base -->
    <path d="M724,176 L746,186 L776,172 L784,166 L782,192 L760,204 L716,204 Z" fill="#f3d0ba"/>
    <!-- soil mound -->
    <path d="M726.5,172 C727,162 735,156.5 749,156.5 C762,156.5 773,160 774.5,170 C774.5,179 766,186 751,186.5 C737,186.5 727,181 726.5,172 Z" fill="#5c4534"/>
    <path d="M735,162 C740,159 750,158 758,160 C752,163 742,164 735,166 Z" fill="#6a5040" opacity="0.7"/>
    <!-- left hand -->
    <path d="M693,192 C700,180 707,169 713,162 C717,157 722,153 728,151.5 C733,150.5 737,151 738,153 C737,156 732,159 729,163 C726.5,168 726.5,177 728,184 C729,190 731,195 735,204 L693,204 Z" fill="#f4d2bc"/>
    <path d="M713,170 C718,165 723,160 728,158 C726,166 726,176 728,184 C722,182 716,178 713,170 Z" fill="#f7dccb" opacity="0.6"/>
    <!-- right hand -->
    <path d="M716,204 C728,196 738,189 746,185 C756,181 766,178 772,174.5 C777,171.5 780,168 781,163 C781.5,158.5 784,157 785.5,160 C787.5,168 786,179 781,187 C775,195 765,200 752,204 Z" fill="#f5d6c2"/>
    <path d="M734,198 C748,191 762,186 774,181 C768,190 756,196 744,201 Z" fill="#ebc2aa" opacity="0.6"/>
    <!-- fingers -->
    <ellipse cx="762" cy="152.5" rx="7" ry="3" transform="rotate(-30 762 152.5)" fill="#f2ceb8"/>
    <ellipse cx="766" cy="157.5" rx="7" ry="3" transform="rotate(-35 766 157.5)" fill="#f4d2bc"/>
    <ellipse cx="777.5" cy="166" rx="5.5" ry="9.5" fill="#f4d2bc"/>
    <!-- fade bottom-left -->
    <path d="M693,182 C702,194 712,200 726,204 L693,204 Z" fill="#fff" opacity="0.75"/>
    <path d="M693,190 C700,198 706,201 713,204 L693,204 Z" fill="#fff"/>
    <!-- plant -->
    <ellipse cx="744" cy="161" rx="4.5" ry="1.8" transform="rotate(20 744 161)" fill="#5a9a34"/>
    <ellipse cx="756" cy="162" rx="4.5" ry="1.8" transform="rotate(-20 756 162)" fill="#5a9a34"/>
    <ellipse cx="750" cy="165" rx="2.5" ry="3.5" fill="#4f8f30"/>
    <path d="M748.5,152 L749,168 L751,168 L750.5,152 Z" fill="#4a8a2a"/>
    <path d="M738,142 L747,153 L748,152 L740,141 Z" fill="#6a9a40"/>
    <path d="M761,143 L751,152 L752,153 L762,144 Z" fill="#6a9a40"/>
    <circle cx="749.5" cy="154" r="4.3" fill="#f2c21a"/>
    <circle cx="746.5" cy="150" r="3.4" fill="#f5ca1e"/>
    <circle cx="752.5" cy="149.5" r="3.4" fill="#f2c41c"/>
    <circle cx="750" cy="157.5" r="3" fill="#e8b818"/>
    <path d="M733.5,146 L736,139 L741,136.5 L742.5,141 L738,145 Z" fill="#f0c820"/>
    <path d="M756,147 L757.5,137 L761,139.5 L765,142.5 L761,148 Z" fill="#f0c820"/>
   </g>
  </g>
</svg>

<!-- bottom left -->
<svg class="a" style="left:0;top:260px" width="80" height="150">
  <g fill="none" stroke="#3a8ee0" stroke-width="4" stroke-linejoin="miter">
    <polyline points="8,16 17,25 8,34"/>
    <polyline points="8,88 17,97.5 8,107"/>
  </g>
</svg>
<div class="t" style="left:41.5px;top:279px;">缩短发酵时间 (1/4 ~ 1/3)</div>
<div class="t" style="left:71px;top:311px;">占地小，投资省</div>
<div class="t" style="left:41.5px;top:353.5px;">有效捕集恶臭</div>
<div class="t" style="left:71px;top:385px;">节省臭气处理设备投资及占地</div>


<!-- small arrows -->
<svg class="a" style="left:0;top:0" width="831" height="413">
  <defs>
    <linearGradient id="sg" x1="0" y1="0" x2="1" y2="0">
      <stop offset="0" stop-color="#3a52a0" stop-opacity="0"/>
      <stop offset="0.55" stop-color="#3a52a0"/>
      <stop offset="1" stop-color="#262c48"/>
    </linearGradient>
  </defs>
  <g fill="url(#sg)">
    <polygon points="50.4,314.8 61.1,314.8 61.1,312 68,318.9 61.1,326 61.1,322.8 50.4,322.8"/>
    <polygon points="50.6,389.2 61.3,389.2 61.3,386.4 68,393.3 61.3,400.2 61.3,397.2 50.6,397.2"/>
    <polygon points="580,331.8 591.2,331.8 591.2,329 598.3,335.8 591.2,342.7 591.2,339.8 580,339.8"/>
    <polygon points="579.4,371.8 590.6,371.8 590.6,369 597.4,375.8 590.6,382.5 590.6,379.8 579.4,379.8"/>
  </g>
</svg>

<!-- cubes -->
<svg class="a" style="left:320px;top:262px" width="200" height="90">
  <polygon points="8.3,9.2 63.2,9.2 81.1,26.6 81.1,81.7 24.6,81.7 8.3,64.3" fill="#0e1524"/>
  <rect x="24.6" y="26.6" width="56.5" height="55.1" fill="#fff" stroke="#0e1524" stroke-width="1"/>
  <polygon points="131.1,9.2 186.1,9.2 186.1,63.6 168.6,81.1 113.3,81.1 113.3,25.7" fill="#0e1524"/>
  <rect x="113.3" y="25.7" width="55.3" height="55.4" fill="#fff" stroke="#0e1524" stroke-width="1"/>
</svg>
<div class="t" style="left:359px;top:298px;font-size:15px;line-height:18.5px;font-weight:bold;">投资<br>成本</div>
<div class="t" style="left:437px;top:297px;font-size:15px;line-height:18.5px;font-weight:bold;">运行<br>成本</div>

<!-- bottom right -->
<svg class="a" style="left:520px;top:260px" width="40" height="60">
  <polyline points="17,22 26,31 17,40" fill="none" stroke="#3a8ee0" stroke-width="4"/>
</svg>
<div class="t" style="left:568.5px;top:283.5px;">泥饼含水率低且透气性好</div>
<div class="t" style="left:599px;top:324px;">节省干物质添加费用（~1/3）</div>
<div class="t" style="left:603px;top:367px;">减少空气供给费用（~1/7）</div>

</body>
</html>
